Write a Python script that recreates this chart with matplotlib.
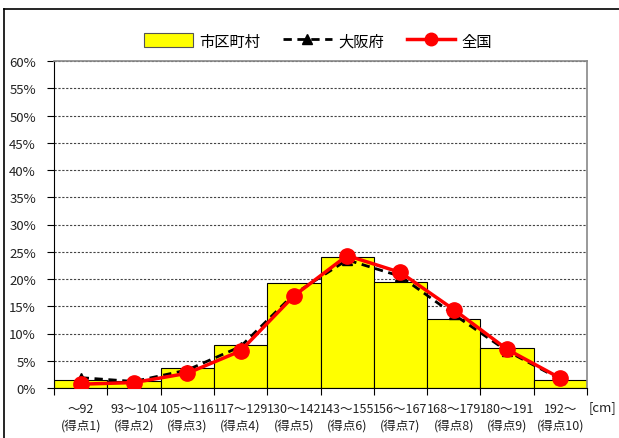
import matplotlib
matplotlib.use("Agg")
import matplotlib.pyplot as plt
import numpy as np
from matplotlib.lines import Line2D
from matplotlib.patches import Patch

plt.rcParams['font.family'] = ['Noto Sans CJK JP', 'DejaVu Sans']

categories = ["～92\n(得点1)", "93～104\n(得点2)", "105～116\n(得点3)", "117～129\n(得点4)",
              "130～142\n(得点5)", "143～155\n(得点6)", "156～167\n(得点7)", "168～179\n(得点8)",
              "180～191\n(得点9)", "192～\n(得点10)"]
city = [1.5, 1.2, 3.6, 7.9, 19.3, 24.1, 19.4, 12.6, 7.4, 1.5]
osaka = [1.9, 1.2, 3.3, 7.6, 17.2, 23.5, 20.5, 13.5, 6.8, 1.6]
national = [0.7, 1.0, 2.7, 6.8, 16.9, 24.3, 21.2, 14.4, 7.1, 1.8]
yticks = list(range(0, 61, 5))

W, H = 619, 439
fig = plt.figure(figsize=(W/100, H/100), dpi=100)
ax = fig.add_axes([54/W, 1-389/H, (587-54)/W, (389-62)/H])

x = np.arange(len(categories))
ax.bar(x, city, width=1.0, color='#FFFF00', edgecolor='black', linewidth=0.8, zorder=2)
ax.plot(x, osaka, color='black', linestyle=(0, (3, 2)), linewidth=2, marker='^',
        markersize=7, markerfacecolor='black', zorder=3)
ax.plot(x, national, color='#FF0000', linewidth=2.5, marker='o', markersize=11,
        markerfacecolor='#FF0000', markeredgecolor='#FF0000', zorder=4)

ax.set_xlim(-0.5, len(categories)-0.5)
ax.set_ylim(0, 60)
ax.set_yticks(yticks)
ax.set_yticklabels([f"{v}%" for v in yticks], fontsize=9.5, color='#222222')
ax.yaxis.grid(True, color='#444444', linestyle=(0, (2, 1.5)), linewidth=0.8, zorder=0)
ax.set_axisbelow(True)

ax.set_xticks(x)
ax.set_xticklabels(categories, fontsize=9, color='#222222', linespacing=1.4)
ax.tick_params(axis='x', length=0, pad=10)
ax.set_xticks(np.arange(-0.5, len(categories), 1.0), minor=True)
ax.tick_params(axis='x', which='minor', length=5, width=0.8, color='black')
ax.tick_params(axis='y', length=5, width=0.8, color='black', pad=8)

for s in ['top', 'right']:
    ax.spines[s].set_color('#888888')
    ax.spines[s].set_linewidth(1.2)
for s in ['left', 'bottom']:
    ax.spines[s].set_color('black')
    ax.spines[s].set_linewidth(0.8)

fig.text(602/W, 1-408/H, "[cm]", fontsize=9.5, ha='center', va='center', color='#222222')

handles = [Patch(facecolor='#FFFF00', edgecolor='#555555', linewidth=0.8),
           Line2D([], [], color='black', linestyle=(0, (3, 2)), linewidth=2, marker='^', markersize=7),
           Line2D([], [], color='#FF0000', linewidth=2.5, marker='o', markersize=9)]
fig.legend(handles, ["市区町村", "大阪府", "全国"], loc='center', bbox_to_anchor=(318/W, 1-42/H),
           ncol=3, frameon=False, fontsize=11, handlelength=3.2, handletextpad=0.4,
           columnspacing=1.5, handleheight=1.0)

# outer frame (left and top visible)
fig.add_artist(Line2D([4/W, 4/W], [0, 1-10/H], color='black', linewidth=1.2, transform=fig.transFigure))
fig.add_artist(Line2D([4/W, 1], [1-10/H, 1-10/H], color='black', linewidth=1.2, transform=fig.transFigure))

fig.savefig("out.png", dpi=100)
